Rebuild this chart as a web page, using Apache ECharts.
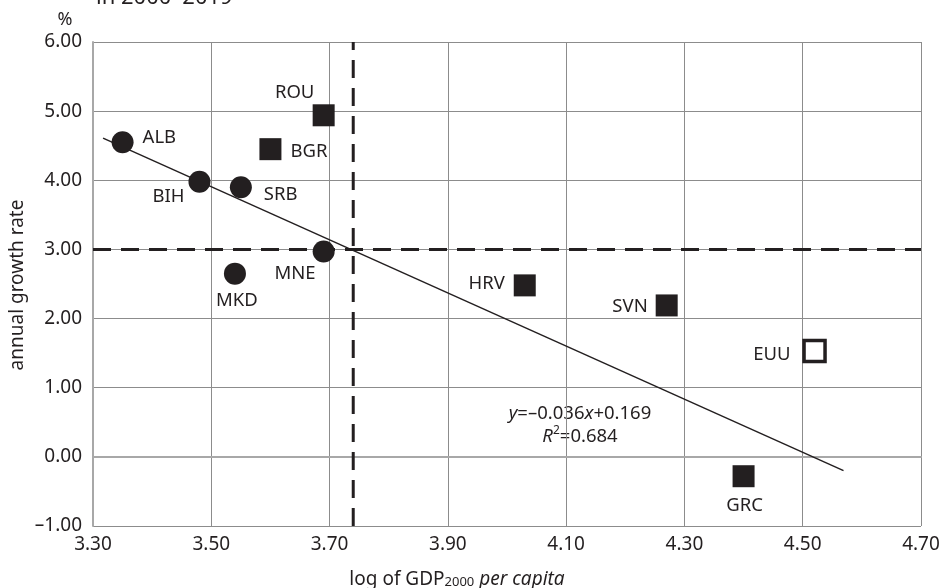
<!DOCTYPE html>
<html><head><meta charset="utf-8">
<script src="https://cdn.jsdelivr.net/npm/echarts@6/dist/echarts.min.js"></script>
<style>html,body{margin:0;padding:0;background:#fff}#c{width:942px;height:588px}</style>
</head><body><div id="c"></div>
<script>
// ---- data ----
const circleNames = ['ALB', 'BIH', 'SRB', 'MNE', 'MKD'];
const circleX = [3.35, 3.48, 3.55, 3.69, 3.54];
const circleY = [4.55, 3.98, 3.90, 2.97, 2.65];
const squareNames = ['BGR', 'ROU', 'HRV', 'SVN', 'GRC'];
const squareX = [3.60, 3.69, 4.03, 4.27, 4.40];
const squareY = [4.45, 4.94, 2.48, 2.19, -0.28];
const euNames = ['EUU'];
const euX = [4.52];
const euY = [1.53];
const trendX = [3.317, 4.569];
const trendY = [4.61, -0.20];
const meanX = 3.74;
const meanY = 3.00;
const xMin = 3.3, xMax = 4.7, yMin = -1, yMax = 6;
const titleText = 'in 2000–2019';
const yUnit = '%';
const yAxisName = 'annual growth rate';

// ---- styles ----
const INK = '#231f20';
const FONT = '"Noto Sans", "Open Sans", sans-serif';
const LBL = 18.5;
const labelLayout = {
  ALB: ['left', 20, -5], BGR: ['left', 20, 3], SRB: ['left', 23, 8],
  BIH: ['right', -15, 15], MNE: ['right', -8, 22], MKD: ['center', 2, 27],
  ROU: ['center', -29, -23], HRV: ['right', -20, -2], SVN: ['right', -19, 1],
  EUU: ['right', -24, 4], GRC: ['center', 1, 30]
};
function items(names, xs, ys) {
  return names.map((n, i) => {
    const L = labelLayout[n];
    return {
      name: n, value: [xs[i], ys[i]],
      label: {
        show: true, position: 'inside', align: L[0], verticalAlign: 'middle',
        offset: [L[1], L[2]], formatter: '{b}', color: INK, fontSize: LBL, fontFamily: FONT
      }
    };
  });
}
const fmt = v => (v < 0 ? '–' : '') + Math.abs(v).toFixed(2);

const chart = echarts.init(document.getElementById('c'), null, {renderer: 'canvas'});
chart.setOption({
  animation: false,
  backgroundColor: '#fff',
  grid: {left: 93, right: 21, top: 42, bottom: 62, outerBoundsMode: 'none'},
  xAxis: {
    type: 'value', min: xMin, max: xMax, interval: 0.1,
    axisLine: {show: true, lineStyle: {color: '#a8a8a8', width: 2}},
    axisTick: {show: false},
    axisLabel: {
      color: INK, fontSize: 19, fontFamily: FONT, margin: 9,
      formatter: v => (Math.round(v * 10) % 2 === 1 ? fmt(v) : '')
    },
    splitLine: {show: true, lineStyle: {color: ['#8c8c8c', 'rgba(0,0,0,0)'], width: 1}}
  },
  yAxis: {
    type: 'value', min: yMin, max: yMax, interval: 1,
    axisLine: {show: true, lineStyle: {color: '#a8a8a8', width: 2}},
    axisTick: {show: false},
    axisLabel: {color: INK, fontSize: 19, fontFamily: FONT, margin: 11, formatter: fmt},
    splitLine: {show: true, lineStyle: {color: '#8c8c8c', width: 1}}
  },
  graphic: [
    {type: 'text', x: 96, y: -2, style: {text: titleText, fill: INK, fontSize: 22, fontFamily: FONT, align: 'left', verticalAlign: 'middle'}},
    {type: 'text', x: 65, y: 20, style: {text: yUnit, fill: INK, fontSize: 18, fontFamily: FONT, align: 'center', verticalAlign: 'middle'}},
    {type: 'text', x: 18, y: 285, rotation: Math.PI / 2,
      style: {text: yAxisName, fill: INK, fontSize: 19, fontFamily: FONT, align: 'center', verticalAlign: 'middle'}},
    {type: 'text', x: 457, y: 577,
      style: {
        text: '{n|log of GDP}{s|2000}{i| per capita}', align: 'center', verticalAlign: 'middle',
        rich: {
          n: {fill: INK, fontSize: 19, fontFamily: FONT, verticalAlign: 'bottom', lineHeight: 24},
          s: {fill: INK, fontSize: 13, fontFamily: FONT, verticalAlign: 'bottom', lineHeight: 19},
          i: {fill: INK, fontSize: 19, fontFamily: FONT, fontStyle: 'italic', verticalAlign: 'bottom', lineHeight: 24}
        }
      }},
    {type: 'text', x: 580, y: 425,
      style: {
        text: '{i|y}{n|=–0.036}{i|x}{n|+0.169}\n{i|R}{p|2}{n|=0.684}', align: 'center', verticalAlign: 'middle',
        rich: {
          n: {fill: INK, fontSize: 18.5, fontFamily: FONT, lineHeight: 23},
          i: {fill: INK, fontSize: 18.5, fontFamily: FONT, fontStyle: 'italic', lineHeight: 23},
          p: {fill: INK, fontSize: 12, fontFamily: FONT, verticalAlign: 'top', lineHeight: 23, padding: [0, 0, 7, 0]}
        }
      }}
  ],
  series: [
    {type: 'line', data: [[xMin, meanY], [xMax, meanY]], symbol: 'none', z: 3,
      lineStyle: {color: INK, width: 3, type: [18, 10]}},
    {type: 'line', data: [[meanX, yMin], [meanX, yMax]], symbol: 'none', z: 3,
      lineStyle: {color: INK, width: 3, type: [18, 10]}},
    {type: 'line', data: trendX.map((x, i) => [x, trendY[i]]), symbol: 'none', z: 4,
      lineStyle: {color: INK, width: 1.5}},
    {type: 'scatter', symbol: 'circle', symbolSize: 22, z: 5,
      itemStyle: {color: INK, opacity: 1}, data: items(circleNames, circleX, circleY)},
    {type: 'scatter', symbol: 'rect', symbolSize: 22, z: 5,
      itemStyle: {color: INK, opacity: 1}, data: items(squareNames, squareX, squareY)},
    {type: 'scatter', symbol: 'rect', symbolSize: 21, z: 5,
      itemStyle: {color: '#fff', borderColor: INK, borderWidth: 3.5, opacity: 1}, data: items(euNames, euX, euY)}
  ]
});
</script></body></html>
